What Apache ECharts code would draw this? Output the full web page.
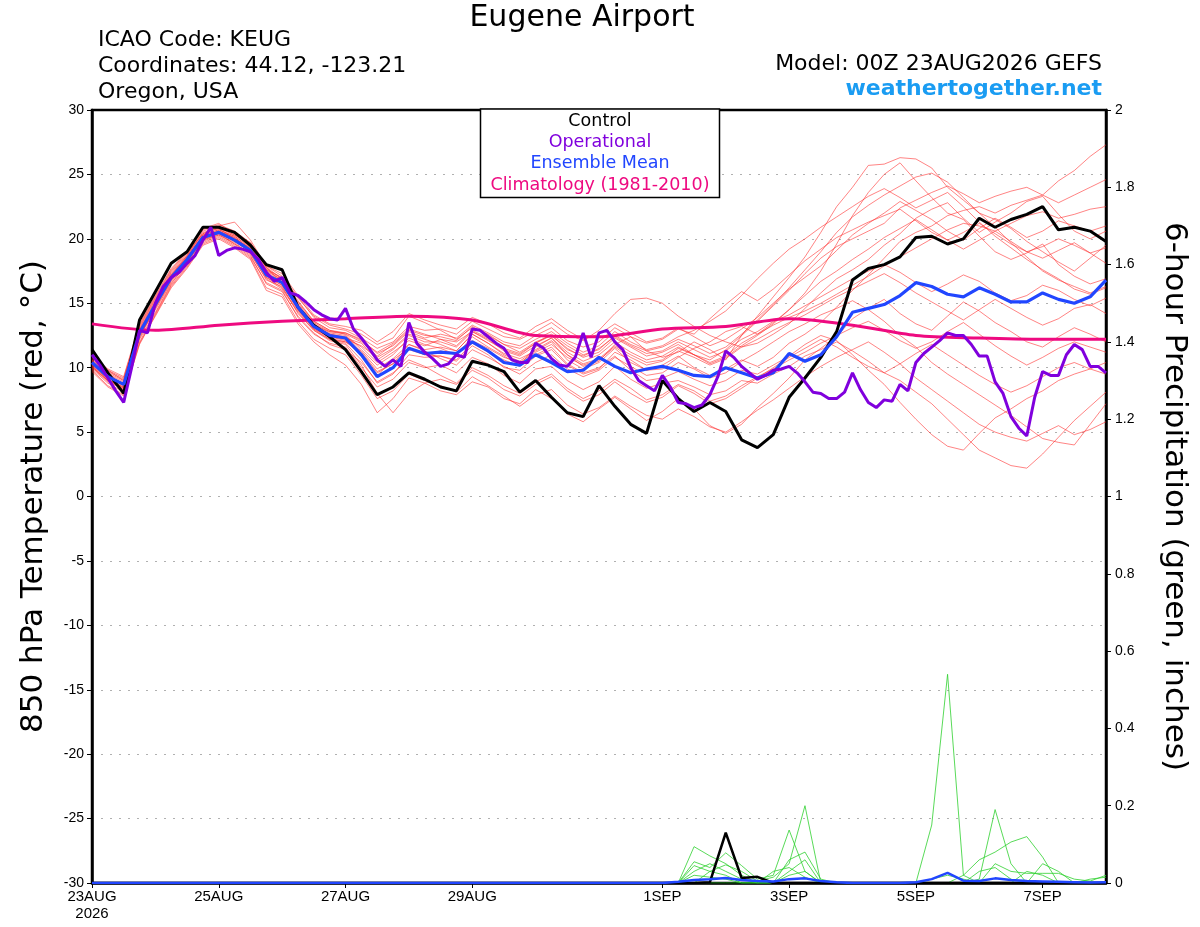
<!DOCTYPE html>
<html>
<head>
<meta charset="utf-8">
<script src="https://cdn.jsdelivr.net/npm/echarts@6/dist/echarts.min.js"></script>
<style>
html,body{margin:0;padding:0;background:#fff;}
#chart{width:1200px;height:927px;}
</style>
</head>
<body>
<div id="chart"></div>
<script>
// ---------------- DATA ----------------
const STEP6 = 6;   // hours between 6-hourly points (start 00Z 23AUG2026)
const STEP3 = 3;   // hours between 3-hourly points (operational)
const STEP24 = 24; // climatology points (daily)

const tickHours = [0, 48, 96, 144, 216, 264, 312, 360];
const tickLabels = ['23AUG\n2026', '25AUG', '27AUG', '29AUG', '1SEP', '3SEP', '5SEP', '7SEP'];

// 850 hPa temperature (°C), 6-hourly
const control = [11.4,9.6,8.0,13.7,15.9,18.1,19.0,20.9,20.9,20.5,19.5,18.0,17.6,14.7,13.3,12.4,11.4,
  9.7,7.9,8.5,9.6,9.1,8.5,8.2,10.5,10.2,9.7,8.1,9.0,7.7,6.5,6.2,8.6,7.0,5.6,4.9,9.0,7.6,6.6,7.3,6.6,4.4,3.8,4.8,7.7,
  9.2,10.8,12.8,16.8,17.7,18.0,18.6,20.1,20.2,19.6,20.0,21.6,20.9,21.5,21.9,22.5,20.7,20.9,20.6,19.8];

const ensMean = [10.4,9.3,8.7,12.7,14.9,17.0,18.4,20.1,20.5,19.9,19.1,17.2,16.6,14.7,13.2,12.5,12.3,
  11.0,9.3,10.0,11.5,11.1,11.2,11.1,12.0,11.3,10.4,10.2,11.0,10.4,9.7,9.8,10.8,10.1,9.6,9.9,10.1,9.8,9.4,9.3,10.0,9.6,9.2,9.6,11.1,
  10.5,11.0,12.4,14.3,14.6,14.9,15.6,16.6,16.3,15.7,15.5,16.2,15.7,15.1,15.1,15.8,15.3,15.0,15.5,16.8];

// operational, 3-hourly
const operational = [11.0,10.2,9.2,8.2,7.3,10.0,12.9,12.7,15.0,16.3,17.0,17.4,18.1,18.7,19.9,20.9,18.7,19.1,19.3,19.2,
  19.0,18.4,17.4,16.7,17.0,15.8,15.6,15.1,14.5,14.1,13.8,13.7,14.6,13.0,12.3,11.5,10.6,10.1,10.6,10.1,
  13.5,11.9,11.2,10.7,10.1,10.3,11.0,10.8,13.0,12.9,12.4,11.9,11.5,10.6,10.4,10.4,11.9,11.5,10.7,10.2,
  10.1,10.8,12.7,10.8,12.7,12.9,12.0,11.4,10.0,9.0,8.6,8.2,9.4,8.5,7.3,7.2,6.9,7.1,7.9,9.3,
  11.3,10.8,10.1,9.6,9.1,9.4,9.8,9.9,10.1,9.6,8.9,8.1,8.0,7.6,7.6,8.1,9.6,8.3,7.3,6.9,
  7.5,7.4,8.7,8.2,10.4,11.1,11.6,12.1,12.7,12.5,12.5,11.8,10.9,10.9,8.9,8.0,6.2,5.3,4.7,7.7,
  9.7,9.4,9.4,11.0,11.8,11.4,10.1,10.1,9.6];

// climatology 1981-2010, daily
const climatology = [13.4,12.9,13.3,13.6,13.8,14.0,13.7,12.5,12.4,13.0,13.2,13.8,13.3,12.5,12.3,12.2,12.2];

// ensemble members (6-hourly)
const m01 = [10.8,9.8,9.0,13.2,15.4,17.5,18.9,20.4,20.9,20.3,19.6,17.8,16.9,15.2,13.6,12.9,12.6,
  11.4,10.2,11.0,12.3,11.8,11.5,11.0,12.4,11.6,10.9,10.2,11.6,12.3,11.0,10.1,10.5,11.8,12.4,11.3,10.8,11.2,12.0,11.4,10.6,12.5,14.0,15.5,17.0,18.6,
  20.5,22.5,24.0,25.7,25.8,26.3,26.2,25.5,24.0,23.0,22.0,21.5,20.8,19.8,19.0,18.2,17.5,18.5,19.5];
const m02 = [10.1,9.0,8.3,12.3,14.6,16.7,18.2,20.0,20.6,20.1,19.2,17.0,16.2,14.4,13.0,12.2,11.9,
  10.6,8.8,9.5,11.0,10.8,10.9,10.5,11.7,11.0,10.0,9.8,10.9,11.4,10.2,9.5,9.9,11.2,10.6,9.8,9.9,10.8,11.5,12.0,12.8,13.2,12.6,13.5,14.5,
  15.8,17.5,19.6,21.8,23.6,25.0,25.9,24.5,23.2,22.0,21.5,20.2,19.0,18.4,18.9,19.6,18.0,17.1,16.5,16.9];
const m03 = [9.9,8.8,8.1,12.0,14.2,16.4,17.9,19.7,20.2,19.5,18.6,16.6,16.0,13.9,12.6,11.9,11.6,
  10.0,8.5,9.1,10.4,10.0,10.2,9.6,10.8,10.3,9.4,8.8,9.9,10.1,9.0,8.3,8.9,10.1,9.1,8.4,8.8,9.0,8.5,7.9,8.2,9.0,8.8,9.5,10.1,
  10.9,11.4,12.0,11.3,10.5,9.6,9.0,8.1,7.2,6.0,4.8,3.6,3.0,2.4,2.2,3.3,4.6,5.9,7.0,8.1];
const m04 = [10.6,9.5,8.9,12.9,15.1,17.2,18.6,20.3,20.7,20.2,19.4,17.5,16.8,14.9,13.4,12.7,12.5,
  11.2,9.7,10.3,11.8,11.4,11.6,11.3,12.6,11.9,11.1,10.7,11.3,12.0,10.6,9.9,10.4,11.5,10.4,9.8,10.2,10.9,10.0,9.4,9.9,10.6,10.1,10.8,11.9,
  12.6,13.5,14.7,16.0,17.2,18.5,19.8,20.5,21.0,21.8,22.2,22.5,22.0,22.6,23.0,23.4,24.5,25.3,26.4,27.3];
const m05 = [10.5,9.4,8.6,12.6,14.8,17.1,18.5,20.2,20.6,20.0,19.3,17.6,17.0,15.5,13.9,13.1,12.9,
  12.3,11.5,12.0,13.2,12.9,13.0,12.6,13.6,13.0,12.4,12.2,12.8,13.5,12.6,12.1,12.9,14.2,15.3,15.4,15.0,14.0,13.2,12.5,12.0,11.6,11.9,12.6,13.4,
  14.6,15.8,16.9,17.6,18.4,19.5,20.4,21.6,22.3,22.8,21.6,20.5,21.3,22.0,22.9,23.3,21.9,20.6,20.0,20.6];
const m06 = [10.2,9.1,8.4,12.5,14.5,16.6,18.0,19.8,20.3,19.6,18.9,16.8,16.3,14.2,12.9,12.1,11.8,
  10.2,8.0,6.5,8.0,8.8,8.2,7.9,8.9,8.5,7.6,7.2,8.3,7.6,6.4,5.8,6.8,7.7,6.8,5.9,6.6,7.6,6.8,5.5,4.9,5.6,6.9,8.0,9.2,
  10.6,11.5,12.4,13.8,14.6,15.3,14.2,13.4,12.9,14.0,15.1,14.4,13.5,12.8,12.0,11.6,12.4,13.1,12.6,12.0];
const m07 = [10.0,8.9,8.3,12.4,14.7,16.9,18.3,20.0,20.4,19.8,19.0,17.1,16.4,14.6,13.1,12.4,12.1,
  11.0,9.4,10.6,11.5,11.0,10.9,10.6,11.9,11.2,10.6,10.1,11.0,11.6,10.3,9.6,10.0,10.9,9.8,9.0,9.2,9.7,9.1,8.6,9.0,9.8,9.5,10.2,10.9,
  11.8,12.5,12.1,11.0,9.8,8.7,7.3,6.0,4.8,3.9,3.6,4.9,6.1,6.8,7.6,8.2,9.0,9.5,9.9,10.4];
const m08 = [10.7,9.7,9.1,13.0,15.2,17.4,18.8,20.6,21.0,21.3,19.9,17.9,17.1,15.4,14.0,13.3,13.0,
  12.6,11.8,12.3,14.0,13.5,12.9,12.2,13.1,12.6,11.8,11.2,12.0,12.5,11.5,10.8,11.2,12.3,11.6,10.9,11.2,11.8,11.0,10.6,11.4,12.5,13.6,14.8,16.0,
  17.3,18.5,19.4,20.0,20.6,21.2,22.4,23.0,23.6,24.1,23.5,22.8,23.3,23.7,24.0,23.4,22.8,23.4,24.0,24.6];
const m09 = [10.3,9.2,8.6,12.8,14.9,16.9,18.4,20.1,20.5,19.8,19.0,17.4,16.7,14.8,13.3,12.6,12.4,
  11.6,10.4,11.2,12.1,11.7,12.2,12.0,12.8,12.1,11.4,11.0,11.9,12.5,11.4,10.9,11.5,12.4,11.7,11.1,11.3,12.0,11.4,10.8,11.3,12.2,12.8,13.6,14.1,
  14.8,15.5,16.2,16.9,17.5,18.0,17.4,16.6,15.9,16.5,17.2,16.7,15.8,15.2,15.6,16.4,16.0,15.3,14.8,15.4];
const m10 = [9.8,8.6,7.9,11.8,14.1,16.3,17.8,19.6,20.1,19.4,18.5,16.2,15.7,13.6,12.2,11.5,11.0,
  9.4,7.6,8.2,9.5,9.0,8.6,8.1,9.3,8.6,7.8,7.0,7.9,8.3,7.1,6.4,6.9,7.8,7.0,6.3,6.0,6.8,6.2,5.4,5.0,5.8,6.7,7.5,8.4,
  9.3,10.1,10.8,11.4,12.0,11.2,10.3,9.2,8.3,7.4,6.5,5.6,5.0,4.6,4.3,4.9,5.5,4.8,5.2,5.8];
const m11 = [10.9,9.9,9.3,13.4,15.6,17.7,19.0,20.7,21.1,20.6,19.7,17.9,17.3,15.6,14.1,13.4,13.2,
  12.9,12.0,12.8,14.2,13.7,13.3,13.0,13.9,13.4,12.7,12.3,13.2,13.8,12.9,12.2,12.6,13.4,12.7,12.0,12.3,13.1,12.4,11.7,12.2,13.0,13.9,15.0,16.1,
  17.0,17.9,19.1,20.3,21.2,22.0,22.9,22.2,21.5,20.6,19.9,20.8,21.6,20.9,20.1,20.6,21.4,21.0,20.6,21.0];
const m12 = [10.0,9.0,8.5,12.2,14.3,16.5,18.1,19.9,20.4,19.6,18.7,16.5,15.9,14.0,12.7,11.8,11.4,
  10.4,8.9,9.6,10.6,10.1,9.4,8.8,10.0,9.4,8.6,8.0,8.9,9.5,8.4,7.6,8.2,9.1,8.4,7.5,7.9,8.7,8.2,7.4,7.8,8.6,9.3,9.9,10.6,
  11.2,11.9,12.5,13.1,13.6,12.9,12.1,11.5,12.0,12.8,13.5,12.6,11.7,10.9,10.2,10.8,11.5,12.0,11.6,11.2];
const m13 = [10.4,9.3,8.8,12.9,15.0,17.1,18.6,20.2,20.6,20.1,19.2,17.3,16.5,14.5,13.0,12.4,12.2,
  11.7,10.8,11.5,12.6,12.2,11.8,11.3,12.6,11.9,11.0,10.5,11.4,12.1,11.0,10.3,10.7,11.7,11.0,10.4,10.6,11.5,11.0,10.3,10.8,11.7,12.5,13.4,14.5,
  15.6,16.7,17.5,18.4,19.2,20.1,20.8,21.5,20.7,19.9,19.2,19.9,20.6,19.8,19.0,18.5,19.1,19.7,18.9,18.1];
const m14 = [10.6,9.6,9.0,13.1,15.3,17.3,18.7,20.5,20.8,20.3,19.5,17.7,16.9,15.0,13.5,12.8,12.6,
  12.0,10.9,11.8,12.9,12.5,12.4,12.1,13.2,12.5,11.8,11.5,12.2,12.8,11.9,11.2,11.7,12.8,12.0,11.4,11.7,12.4,12.9,13.6,14.4,15.6,16.9,18.1,19.2,
  20.0,20.9,21.7,22.5,23.3,23.9,23.2,22.4,23.0,23.6,22.5,21.3,20.2,19.3,18.4,17.6,16.9,16.1,15.7,16.2];
const m15 = [10.2,9.1,8.5,12.6,14.8,16.8,18.2,19.9,20.3,19.7,18.8,16.9,16.1,14.3,12.9,12.2,12.0,
  11.3,9.9,10.7,11.8,11.3,10.7,10.2,11.4,10.8,10.1,9.5,10.4,11.0,9.9,9.3,9.8,10.8,10.1,9.4,9.6,10.4,9.9,9.2,9.6,10.5,11.2,12.0,12.8,
  13.4,14.1,14.6,15.2,14.5,13.6,12.5,11.6,10.4,9.5,8.7,7.9,7.1,6.3,5.4,4.5,4.2,4.0,5.6,7.2];
const m16 = [10.5,9.5,8.7,12.7,14.9,17.0,18.5,20.3,20.7,20.2,19.3,17.6,16.8,15.1,13.6,12.9,12.7,
  12.2,11.1,11.7,12.8,12.3,12.6,12.3,13.3,12.7,12.0,11.7,12.5,13.1,12.1,11.6,12.0,13.1,12.4,11.9,12.2,13.0,12.6,13.8,14.9,15.9,15.2,16.1,17.2,
  18.3,19.2,20.1,20.7,21.3,21.8,22.3,21.4,20.5,19.9,20.5,21.2,20.4,19.6,19.0,19.4,20.0,19.5,18.9,19.3];
const m17 = [10.1,9.0,8.4,12.5,14.7,16.8,18.3,20.0,20.5,19.9,19.0,17.0,16.4,14.5,13.1,12.3,12.0,
  11.1,9.6,10.3,11.4,11.0,11.3,11.0,12.1,11.5,10.8,10.4,11.2,11.8,10.8,10.2,10.6,11.6,10.8,10.2,10.5,11.3,10.8,10.2,10.7,11.6,12.2,12.9,13.5,
  14.1,14.8,15.5,16.1,16.7,17.3,16.6,15.8,15.1,14.4,13.7,14.5,15.3,14.6,13.9,13.3,13.8,14.6,14.9,14.2];
const m18 = [10.8,9.8,9.2,13.3,15.5,17.6,19.0,20.8,21.2,20.4,19.7,17.8,16.5,14.7,13.3,12.8,12.7,
  12.1,11.2,11.9,13.0,12.6,12.2,11.7,12.9,12.3,11.5,11.1,11.9,12.6,11.7,11.0,11.4,12.5,11.8,11.3,11.6,12.2,11.7,11.1,11.6,12.6,13.7,14.9,16.2,
  17.6,19.0,20.5,21.7,22.6,23.4,24.1,24.8,25.1,24.4,23.2,22.0,20.9,19.7,18.6,17.5,16.8,16.3,15.8,16.3];
const m19 = [9.7,8.5,7.8,11.9,14.0,16.2,17.7,19.5,20.0,19.3,18.4,16.0,15.5,13.4,12.0,11.0,10.2,
  8.7,6.5,7.6,9.2,8.8,9.1,8.7,9.8,9.2,8.3,7.8,8.7,9.3,8.2,7.4,7.9,8.9,8.0,7.3,7.7,8.6,8.0,7.2,7.6,8.4,9.2,10.0,10.8,
  11.5,12.2,11.6,10.8,10.1,9.6,10.3,11.1,11.8,11.0,10.2,9.4,8.7,8.1,8.6,9.3,10.0,10.4,9.9,9.5];
const m20 = [10.3,9.3,8.7,12.8,15.0,17.2,18.7,20.4,20.8,20.0,19.1,17.2,16.6,14.8,13.3,12.6,12.3,
  11.9,10.6,11.4,12.5,12.0,12.0,11.6,12.8,12.2,11.3,10.9,11.7,12.3,11.2,10.5,11.0,12.0,11.2,10.6,10.9,11.6,11.0,10.4,10.9,11.9,12.6,13.3,13.9,
  14.4,15.0,15.7,16.4,17.1,17.9,18.6,19.3,20.0,20.7,21.2,21.0,20.6,21.2,21.8,22.1,21.6,21.9,22.3,22.5];
const members = [m01,m02,m03,m04,m05,m06,m07,m08,m09,m10,m11,m12,m13,m14,m15,m16,m17,m18,m19,m20];

// 6-hour precipitation (inches), 6-hourly
const Z36 = [0,0,0,0,0,0,0,0,0,0,0,0,0,0,0,0,0,0,0,0,0,0,0,0,0,0,0,0,0,0,0,0,0,0,0,0]; // 23AUG 00Z .. 31AUG 18Z: all members dry
const precipControl = Z36.concat([0,0,0,0.002,0.13,0.013,0.016,0,0,0,0,0,0,0,0,0,0,0,0,0,0,0,0,0,0,0,0,0,0]);
const precipMean = Z36.concat([0,0.003,0.008,0.01,0.013,0.008,0.005,0.004,0.01,0.012,0.005,0.002,0,0,0,0,0.002,0.01,0.026,0.006,0.005,0.012,0.008,0.005,0.004,0.003,0.002,0.001,0.002]);
const pg01 = Z36.concat([0,0,0.094,0.07,0.05,0.02,0,0,0,0,0,0,0,0,0,0,0,0.15,0.54,0.02,0,0,0,0,0,0,0,0,0]);
const pg02 = Z36.concat([0,0,0.055,0.04,0.078,0.045,0.01,0.02,0.137,0.03,0,0,0,0,0,0,0,0,0,0,0.01,0.19,0.05,0,0,0,0,0,0]);
const pg03 = Z36.concat([0,0,0.045,0.03,0.047,0.03,0.005,0.015,0.05,0.2,0,0,0,0,0,0,0,0,0,0.02,0.06,0.08,0.106,0.12,0.067,0,0,0,0]);
const pg04 = Z36.concat([0,0,0.03,0.05,0.03,0.01,0,0.03,0.04,0.015,0,0,0,0,0,0,0,0,0,0,0,0.05,0.03,0.025,0.025,0.025,0.01,0.005,0.02]);
const pg05 = Z36.concat([0,0,0,0.03,0.02,0,0,0,0.06,0.08,0.01,0,0,0,0,0,0,0,0,0,0.03,0.04,0.01,0,0.05,0.03,0,0,0]);
const pg06 = Z36.concat([0,0,0.02,0.015,0.01,0,0,0,0.03,0.06,0,0,0,0,0,0,0,0.01,0.02,0.01,0,0,0,0.03,0.02,0,0,0,0]);
const pg07 = Z36.concat([0,0,0,0,0,0,0,0,0.02,0.03,0,0,0,0,0,0,0,0,0,0,0,0,0,0,0,0,0,0.01,0.015]);
const precipMembers = [pg01,pg02,pg03,pg04,pg05,pg06,pg07];

// ---------------- CHART ----------------
const FONT = '"Liberation Sans", Arial, Helvetica, sans-serif';
const WIDE = '"DejaVu Sans", "Liberation Sans", sans-serif';
const C_RED = 'rgba(255,40,40,0.72)';
const C_GREEN = '#2fd12f';
const C_BLACK = '#000000';
const C_PURPLE = '#8000dd';
const C_BLUE = '#2146ff';
const C_MAGENTA = '#ee0a80';

function pts(vals, step) { return vals.map((v, i) => [i * step, v]); }

const series = [];
members.forEach((m, k) => series.push({
  name: 'member' + (k + 1), type: 'line', data: pts(m, STEP6), showSymbol: false, silent: true,
  lineStyle: { color: C_RED, width: 0.8 }, z: 2
}));
precipMembers.forEach((m, k) => series.push({
  name: 'precip member' + (k + 1), type: 'line', yAxisIndex: 1, data: pts(m, STEP6), showSymbol: false, silent: true,
  lineStyle: { color: C_GREEN, width: 0.8 }, z: 2
}));
series.push({ name: 'Climatology (1981-2010)', type: 'line', data: pts(climatology, STEP24), showSymbol: false,
  smooth: 0.3, lineStyle: { color: C_MAGENTA, width: 3 }, z: 3 });
series.push({ name: 'Control precip', type: 'line', yAxisIndex: 1, data: pts(precipControl, STEP6), showSymbol: false,
  lineStyle: { color: C_BLACK, width: 2.5 }, z: 4 });
series.push({ name: 'Mean precip', type: 'line', yAxisIndex: 1, data: pts(precipMean, STEP6), showSymbol: false,
  lineStyle: { color: C_BLUE, width: 2.5 }, z: 4 });
series.push({ name: 'Control', type: 'line', data: pts(control, STEP6), showSymbol: false,
  lineStyle: { color: C_BLACK, width: 3 }, z: 5 });
series.push({ name: 'Ensemble Mean', type: 'line', data: pts(ensMean, STEP6), showSymbol: false,
  lineStyle: { color: C_BLUE, width: 3.2 }, z: 6 });
series.push({ name: 'Operational', type: 'line', data: pts(operational, STEP3), showSymbol: false,
  lineStyle: { color: C_PURPLE, width: 3 }, z: 7 });

const chart = echarts.init(document.getElementById('chart'), null, { renderer: 'canvas' });
chart.setOption({
  backgroundColor: '#ffffff',
  animation: false,
  textStyle: { fontFamily: FONT },
  grid: { left: 92, right: 94, top: 110, bottom: 44, containLabel: false, outerBoundsMode: 'none',
    show: true, borderColor: '#000', borderWidth: 2.5, backgroundColor: 'transparent' },
  xAxis: {
    type: 'value', min: 0, max: 384,
    axisLine: { show: true, onZero: false, lineStyle: { color: '#000', width: 2.5 } },
    axisTick: { show: true, customValues: tickHours, length: 5, lineStyle: { color: '#000', width: 1 } },
    axisLabel: { customValues: tickHours, color: '#000', fontSize: 15, fontFamily: FONT, margin: 5, lineHeight: 17,
      formatter: v => tickLabels[tickHours.indexOf(v)] },
    splitLine: { show: false }
  },
  yAxis: [{
    type: 'value', min: -30, max: 30, interval: 5, position: 'left',
    name: '850 hPa Temperature (red, °C)', nameLocation: 'middle', nameRotate: 90, nameGap: 43,
    nameTextStyle: { fontSize: 31, color: '#000', fontFamily: WIDE },
    axisLine: { show: true, lineStyle: { color: '#000', width: 2.5 } },
    axisTick: { show: true, length: 5, lineStyle: { color: '#000', width: 1 } },
    axisLabel: { color: '#000', fontSize: 14, fontFamily: FONT, margin: 8 },
    splitLine: { show: true, showMinLine: false, showMaxLine: false, lineStyle: { color: '#b0b0b0', type: [2, 7], width: 1.2 } }
  }, {
    type: 'value', min: 0, max: 2, interval: 0.2, position: 'right',
    name: '6-hour Precipitation (green, inches)', nameLocation: 'middle', nameRotate: -90, nameGap: 53,
    nameTextStyle: { fontSize: 31, color: '#000', fontFamily: WIDE },
    axisLine: { show: true, lineStyle: { color: '#000', width: 2.5 } },
    axisTick: { show: true, length: 5, lineStyle: { color: '#000', width: 1 } },
    axisLabel: { color: '#000', fontSize: 14, fontFamily: FONT, margin: 9 },
    splitLine: { show: false }
  }],
  graphic: [
    { type: 'text', x: 582, y: 18, style: { text: 'Eugene Airport', font: '30px ' + WIDE, fill: '#000', align: 'center', verticalAlign: 'middle' } },
    { type: 'text', x: 98, y: 40, style: { text: 'ICAO Code: KEUG', font: '22px ' + WIDE, fill: '#000', verticalAlign: 'middle' } },
    { type: 'text', x: 98, y: 66, style: { text: 'Coordinates: 44.12, -123.21', font: '22px ' + WIDE, fill: '#000', verticalAlign: 'middle' } },
    { type: 'text', x: 98, y: 92, style: { text: 'Oregon, USA', font: '22px ' + WIDE, fill: '#000', verticalAlign: 'middle' } },
    { type: 'text', x: 1102, y: 64, style: { text: 'Model: 00Z 23AUG2026 GEFS', font: '22px ' + WIDE, fill: '#000', align: 'right', verticalAlign: 'middle' } },
    { type: 'text', x: 1102, y: 89, style: { text: 'weathertogether.net', font: 'bold 22px ' + WIDE, fill: '#1a9cf2', align: 'right', verticalAlign: 'middle' } },
    { type: 'rect', shape: { x: 480.5, y: 109, width: 239, height: 88.5 }, style: { fill: '#fff', stroke: '#000', lineWidth: 1.5 }, z: 100 },
    { type: 'text', x: 600, y: 121, style: { text: 'Control', font: '17.5px ' + WIDE, fill: C_BLACK, align: 'center', verticalAlign: 'middle' }, z: 101 },
    { type: 'text', x: 600, y: 142, style: { text: 'Operational', font: '17.5px ' + WIDE, fill: C_PURPLE, align: 'center', verticalAlign: 'middle' }, z: 101 },
    { type: 'text', x: 600, y: 163.5, style: { text: 'Ensemble Mean', font: '17.5px ' + WIDE, fill: C_BLUE, align: 'center', verticalAlign: 'middle' }, z: 101 },
    { type: 'text', x: 600, y: 185, style: { text: 'Climatology (1981-2010)', font: '17.5px ' + WIDE, fill: C_MAGENTA, align: 'center', verticalAlign: 'middle' }, z: 101 }
  ],
  series: series
});
</script>
</body>
</html>
